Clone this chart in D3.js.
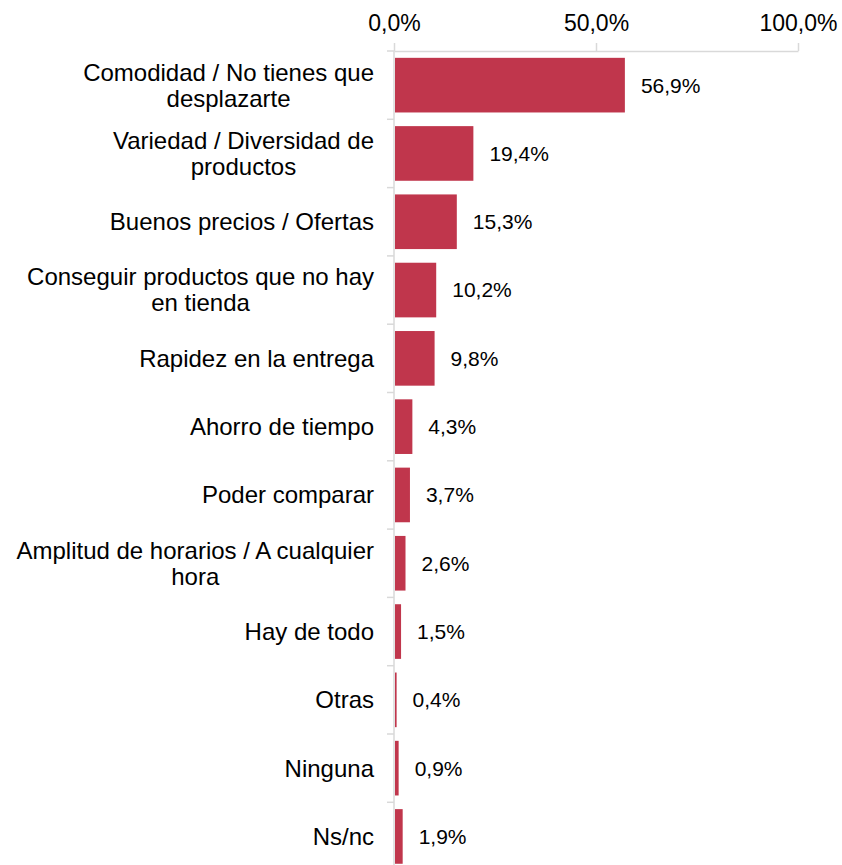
<!DOCTYPE html>
<html>
<head>
<meta charset="utf-8">
<script src="https://cdn.jsdelivr.net/npm/d3@7"></script>
<style>
  body { margin: 0; background: #fff; }
  text { font-family: "Liberation Sans", Arial, sans-serif; fill: #000; }
</style>
</head>
<body>
<svg width="842" height="865"></svg>
<script>
// Data
let categories = [
  ["Comodidad / No tienes que", "desplazarte"],
  ["Variedad / Diversidad de", "productos"],
  ["Buenos precios / Ofertas"],
  ["Conseguir productos que no hay", "en tienda"],
  ["Rapidez en la entrega"],
  ["Ahorro de tiempo"],
  ["Poder comparar"],
  ["Amplitud de horarios / A cualquier", "hora"],
  ["Hay de todo"],
  ["Otras"],
  ["Ninguna"],
  ["Ns/nc"]
];
let values = [56.9, 19.4, 15.3, 10.2, 9.8, 4.3, 3.7, 2.6, 1.5, 0.4, 0.9, 1.9];
let tickValues = [0, 50, 100];

let svg = d3.select("svg");
let gridColor = "#d9d9d9";
let barColor = "#c0364c";
let fmt = v => d3.format(".1f")(v).replace(".", ",") + "%";

let x = d3.scaleLinear().domain([0, 100]).range([394, 798]);
let y = d3.scaleBand()
  .domain(d3.range(categories.length))
  .range([51, 51 + 68.3 * 12])
  .paddingInner(0.2)
  .paddingOuter(0.1);

// Top axis
let xAxis = svg.append("g")
  .attr("transform", "translate(0,51)")
  .call(d3.axisTop(x)
    .tickValues(tickValues)
    .tickSizeInner(8)
    .tickSizeOuter(0)
    .tickPadding(12)
    .tickFormat(fmt));
xAxis.select(".domain").attr("stroke", gridColor).attr("stroke-width", 1.5);
xAxis.selectAll(".tick line").attr("stroke", gridColor).attr("stroke-width", 1.5);
xAxis.selectAll(".tick text")
  .style("font-family", "'Liberation Sans', Arial, sans-serif")
  .style("font-size", "23px")
  .attr("fill", "#000");

// Left axis line with ticks between categories
let yStart = y.range()[0], yEnd = y.range()[1];
svg.append("line")
  .attr("x1", x(0)).attr("x2", x(0))
  .attr("y1", yStart).attr("y2", yEnd)
  .attr("stroke", gridColor).attr("stroke-width", 1.5);
svg.selectAll(".ytick")
  .data(d3.range(categories.length + 1))
  .enter().append("line")
    .attr("class", "ytick")
    .attr("x1", x(0) - 7).attr("x2", x(0))
    .attr("y1", k => yStart + k * y.step())
    .attr("y2", k => yStart + k * y.step())
    .attr("stroke", gridColor).attr("stroke-width", 1.5);

// Bars
svg.selectAll(".bar")
  .data(values)
  .enter().append("rect")
    .attr("class", "bar")
    .attr("x", x(0) + 1)
    .attr("y", (d, i) => y(i))
    .attr("width", d => x(d) - x(0))
    .attr("height", y.bandwidth())
    .attr("fill", barColor);

// Value labels
svg.selectAll(".val")
  .data(values)
  .enter().append("text")
    .attr("class", "val")
    .attr("x", d => x(d) + 17)
    .attr("y", (d, i) => y(i) + y.bandwidth() / 2)
    .attr("dy", "0.35em")
    .style("font-size", "21px")
    .text(d => fmt(d));

// Category labels (centered lines, block right-aligned)
let labelRight = 374;
let lineH = 26;
categories.forEach((lines, i) => {
  let cy = y(i) + y.bandwidth() / 2;
  let g = svg.append("g");
  let texts = lines.map((ln, j) => g.append("text")
    .attr("y", cy + (j - (lines.length - 1) / 2) * lineH)
    .attr("dy", "0.35em")
    .attr("text-anchor", "middle")
    .style("font-size", "24px")
    .text(ln));
  let maxW = d3.max(texts, t => t.node().getComputedTextLength());
  texts.forEach(t => t.attr("x", labelRight - maxW / 2));
});
</script>
</body>
</html>
